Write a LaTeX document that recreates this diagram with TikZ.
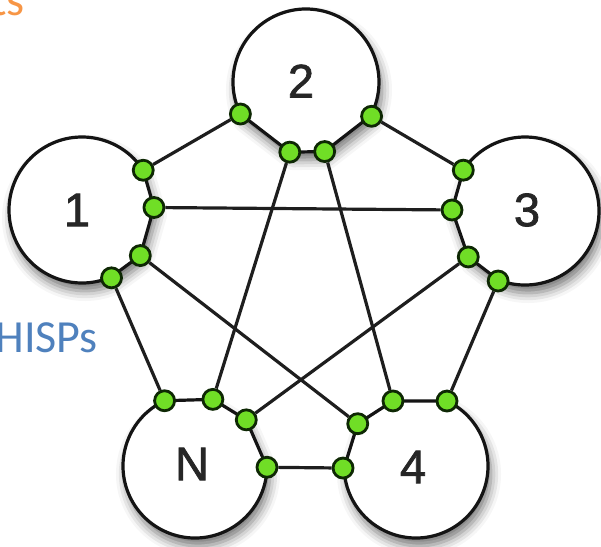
\documentclass[tikz,border=0pt]{standalone}
\usepackage{fontspec}
\setmainfont{Carlito}
\newfontfamily\labelfont[FakeBold=1.6]{Liberation Sans}
\usetikzlibrary{calc,shadows.blur}

\definecolor{accentorange}{RGB}{247,150,70}
\definecolor{accentblue}{RGB}{79,129,189}
\definecolor{portgreen}{RGB}{112,222,38}
\definecolor{portrim}{RGB}{14,40,4}
\definecolor{wire}{RGB}{30,30,30}

\tikzset{
  hub/.style={fill=white, draw=black!92, line width=3.2pt, line join=round,
    blur shadow={shadow xshift=3pt, shadow yshift=-8pt,
                 shadow blur radius=10pt, shadow opacity=55}},
  port/.style={circle, fill=portgreen, draw=portrim, line width=2.8pt,
    inner sep=0pt, minimum size=20pt},
  link/.style={draw=wire, line width=3.2pt},
  hublabel/.style={font=\labelfont\fontsize{47}{47}\selectfont, text=black!85},
  caption/.style={font=\fontsize{46}{46}\selectfont, inner sep=0pt}
}

\begin{document}
\begin{tikzpicture}[x=1pt, y=-1pt]
  \useasboundingbox (0,0) rectangle (601,546);

  % hub centres
  \coordinate (h1) at (82,210);
  \coordinate (h2) at (306,82);
  \coordinate (h3) at (525,211);
  \coordinate (hN) at (195,466);
  \coordinate (h4) at (416,466);

  % ports on each hub rim (angles measured with y pointing down)
  \coordinate (p1a) at ($(h1)+(-33:73)$);
  \coordinate (p1b) at ($(h1)+(-2:72)$);
  \coordinate (p1c) at ($(h1)+(38:74)$);
  \coordinate (p1d) at ($(h1)+(66.5:74)$);

  \coordinate (p2a) at ($(h2)+(154:73)$);
  \coordinate (p2b) at ($(h2)+(103:72)$);
  \coordinate (p2c) at ($(h2)+(75:72)$);
  \coordinate (p2d) at ($(h2)+(27.6:74)$);

  \coordinate (p3a) at ($(h3)+(213.5:74)$);
  \coordinate (p3b) at ($(h3)+(180.8:73)$);
  \coordinate (p3c) at ($(h3)+(141:73)$);
  \coordinate (p3d) at ($(h3)+(111:75)$);

  \coordinate (pNa) at ($(hN)+(-115:72)$);
  \coordinate (pNb) at ($(hN)+(-75:69)$);
  \coordinate (pNc) at ($(hN)+(-42:69)$);
  \coordinate (pNd) at ($(hN)+(1:72)$);

  \coordinate (p4a) at ($(h4)+(-64.5:72)$);
  \coordinate (p4b) at ($(h4)+(-109.5:69)$);
  \coordinate (p4c) at ($(h4)+(-144:72)$);
  \coordinate (p4d) at ($(h4)+(178.4:73)$);

  % hubs: outer arc between the end ports, chords along the inner side
  \path[hub] (p1a) arc[start angle=-33, end angle=-293.5, radius=73]
    -- (p1c) -- (p1b) -- cycle;
  \path[hub] (p2a) arc[start angle=154, end angle=387.6, radius=73]
    -- (p2c) -- (p2b) -- cycle;
  \path[hub] (p3a) arc[start angle=213.5, end angle=471, radius=74]
    -- (p3c) -- (p3b) -- cycle;
  \path[hub] (pNa) arc[start angle=-115, end angle=-359, radius=72]
    -- (pNc) -- (pNb) -- cycle;
  \path[hub] (p4a) arc[start angle=-64.5, end angle=178.4, radius=72]
    -- (p4c) -- (p4b) -- cycle;

  % hub labels
  \node[hublabel] (l1) at (77,210) {1};
  \node[hublabel] (l2) at (301,81) {2};
  \node[hublabel] (l3) at (527,210) {3};
  \node[hublabel] (lN) at (192,464) {N};
  \node[hublabel] (l4) at (413,467) {4};

  % port dots
  \foreach \p in {p1a,p1b,p1c,p1d,p2a,p2b,p2c,p2d,p3a,p3b,p3c,p3d,
                  pNa,pNb,pNc,pNd,p4a,p4b,p4c,p4d}
    \node[port] (d\p) at (\p) {};

  % links between hubs
  \draw[link] (dp1a) -- (dp2a);
  \draw[link] (dp1b) -- (dp3b);
  \draw[link] (dp1c) -- (dp4c);
  \draw[link] (dp1d) -- (dpNa);
  \draw[link] (dp2b) -- (dpNb);
  \draw[link] (dp2c) -- (dp4b);
  \draw[link] (dp2d) -- (dp3a);
  \draw[link] (dp3c) -- (dpNc);
  \draw[link] (dp3d) -- (dp4a);
  \draw[link] (dpNd) -- (dp4d);

  % side captions
  \node[caption, text=accentorange, anchor=base east] (cap1) at (25,15) {ts};
  \node[caption, text=accentblue, anchor=base east] (cap2) at (98,352) {HISPs};
\end{tikzpicture}
\end{document}
